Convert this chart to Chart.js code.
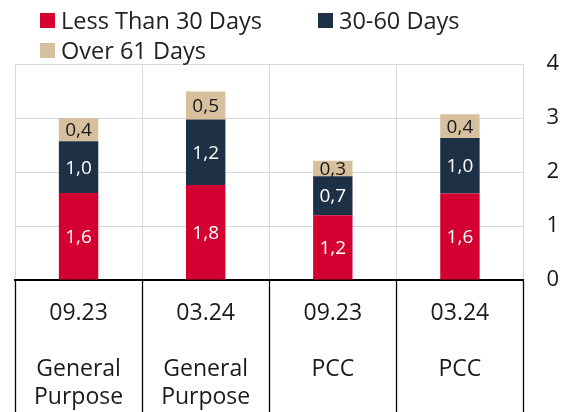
<!DOCTYPE html>
<html>
<head>
<meta charset="utf-8">
<script src="https://cdn.jsdelivr.net/npm/chart.js@4.4.1/dist/chart.umd.min.js"></script>
<style>
  html, body { margin: 0; padding: 0; background: #fff; }
  #wrap { position: relative; width: 571px; height: 412px; overflow: hidden; }
  #legend {
    position: absolute; left: 40px; top: 5px; width: 531px;
    display: flex; flex-wrap: wrap; column-gap: 56px;
    font: 23.5px "Open Sans"; color: #222; z-index: 2;
  }
  .item { display: flex; align-items: center; height: 30px; white-space: nowrap; }
  .box { width: 15px; height: 15px; margin-right: 6px; }
</style>
</head>
<body>
<div id="wrap">
  <div id="legend"></div>
  <canvas id="chart"></canvas>
</div>
<script>
// kategoriler (tarih / fon tipi)
const categories = [
  ["09.23", "", "General", "Purpose"],
  ["03.24", "", "General", "Purpose"],
  ["09.23", "", "PCC"],
  ["03.24", "", "PCC"]
];
const seriesNames = ["Less Than 30 Days", "30-60 Days", "Over 61 Days"];
const lessThan30 = [1.61, 1.76, 1.2, 1.6];
const days30to60 = [0.96, 1.21, 0.72, 1.03];
const over61 = [0.43, 0.52, 0.29, 0.44];
const yTicks = [0, 1, 2, 3, 4];

const colors = ["#d50032", "#1e3046", "#d6c09d"];
const labelColors = ["#ffffff", "#ffffff", "#1a1a1a"];

// --- bar içi değer etiketleri ---
const valueLabels = {
  id: "valueLabels",
  afterDatasetsDraw(chart){
    const ctx = chart.ctx;
    ctx.save();
    ctx.font = '19px "Open Sans"';
    ctx.textAlign = "center";
    ctx.textBaseline = "middle";
    chart.data.datasets.forEach((ds, i) => {
      const meta = chart.getDatasetMeta(i);
      meta.data.forEach((bar, j) => {
        const v = ds.data[j];
        if (v == null) return;
        ctx.fillStyle = labelColors[i];
        ctx.fillText(v.toFixed(1).replace(".", ","), bar.x, (bar.y + bar.base) / 2 + 1);
      });
    });
    ctx.restore();
  }
};

const seriesData = [lessThan30, days30to60, over61];

const chart = new Chart(document.getElementById("chart"), {
  type: "bar",
  data: {
    labels: categories,
    datasets: seriesNames.map((name, i) => ({
      label: name,
      data: seriesData[i],
      backgroundColor: colors[i],
      borderWidth: 0,
      barPercentage: 0.31,
      categoryPercentage: 1
    }))
  },
  options: {
    responsive: true,
    maintainAspectRatio: false,
    animation: false,
    layout: { padding: { top: 64, left: 15, right: 0, bottom: 0 } },
    plugins: {
      legend: { display: false },
      tooltip: { enabled: false }
    },
    scales: {
      x: {
        stacked: true,
        offset: true,
        grid: {
          offset: true,
          color: "#d9d9d9",
          lineWidth: 1,
          tickLength: 132,
          tickWidth: 1.3,
          tickColor: c => (c.index >= categories.length ? "rgba(0,0,0,0)" : "#000")
        },
        border: { color: "#000", width: 2 },
        ticks: {
          color: "#1a1a1a",
          font: { family: "Open Sans", size: 23, lineHeight: "28px" },
          padding: -112.5,
          maxRotation: 0,
          autoSkip: false
        },
        afterFit: s => { s.height = 132; }
      },
      y: {
        stacked: true,
        position: "right",
        min: yTicks[0],
        max: yTicks[yTicks.length - 1],
        grid: {
          color: c => (c.tick && c.tick.value === 0 ? "rgba(0,0,0,0)" : "#d9d9d9"),
          lineWidth: 1,
          drawTicks: false
        },
        border: { display: false },
        ticks: {
          stepSize: 1,
          color: "#1a1a1a",
          font: { family: "Open Sans", size: 22 },
          padding: 23,
          callback: v => String(v)
        },
        afterFit: s => { s.width = 47.5; }
      }
    }
  },
  plugins: [valueLabels]
});

// HTML legend (veri setlerinden)
const legendEl = document.getElementById("legend");
chart.data.datasets.forEach(ds => {
  const item = document.createElement("div");
  item.className = "item";
  const box = document.createElement("span");
  box.className = "box";
  box.style.background = ds.backgroundColor;
  const txt = document.createElement("span");
  txt.textContent = ds.label;
  item.appendChild(box);
  item.appendChild(txt);
  legendEl.appendChild(item);
});
</script>
</body>
</html>
